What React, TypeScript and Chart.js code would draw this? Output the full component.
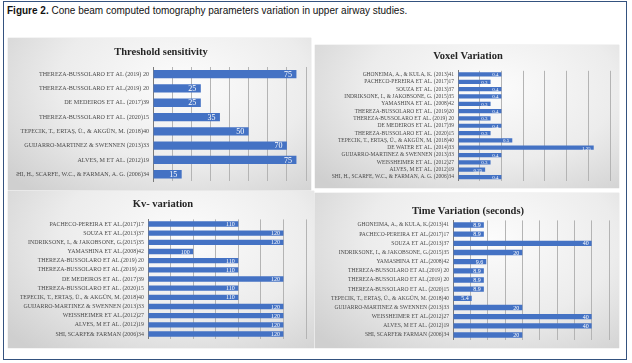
import React, { useEffect, useRef } from "react";
import { Chart, registerables } from "chart.js";
Chart.register(...registerables);

const thresholdLabels = [
  "THEREZA-BUSSOLARO ET AL (2019) 20",
  "THEREZA-BUSSOLARO ET AL.(2019) 20",
  "DE MEDEIROS ET AL. (2017)39",
  "THEREZA-BUSSOLARO ET AL. (2020)15",
  "TEPECIK, T., ERTAŞ, Ü., & AKGÜN, M. (2018)40",
  "GUIJARRO-MARTINEZ & SWENNEN (2013)33",
  "ALVES, M ET AL. (2012)19",
  "SHI, H., SCARFE, W.C., & FARMAN, A. G. (2006)34",
];
const thresholdValues = [75, 25, 25, 35, 50, 70, 75, 15];

const voxelLabels = [
  "GHONEIMA, A., & KULA, K. (2013)41",
  "PACHECO-PEREIRA ET AL. (2017)17",
  "SOUZA ET AL. (2013)37",
  "INDRIKSONE, I., & JAKOBSONE, G. (2015)35",
  "YAMASHINA ET AL. (2008)42",
  "THEREZA-BUSSOLARO ET AL. (2019)20",
  "THEREZA-BUSSOLARO ET AL. (2019) 20",
  "DE MEDEIROS ET AL. (2017)39",
  "THEREZA-BUSSOLARO ET AL. (2020)15",
  "TEPECIK, T., ERTAŞ, Ü., & AKGÜN, M. (2018)40",
  "DE WATER ET AL. (2014)33",
  "GUIJARRO-MARTINEZ & SWENNEN (2013)33",
  "WEISSHEIMER ET AL. (2012)27",
  "ALVES, M ET AL. (2012)19",
  "SHI, H., SCARFE, W.C., & FARMAN, A. G. (2006)34",
];
const voxelValues = [0.4, 0.3, 0.4, 0.4, 0.3, 0.4, 0.3, 0.4, 0.3, 0.5, 1.25, 0.4, 0.3, 0.25, 0.4];

const kvLabels = [
  "PACHECO-PEREIRA ET AL.(2017)17",
  "SOUZA ET AL.(2013)37",
  "INDRIKSONE, I., & JAKOBSONE, G.(2015)35",
  "YAMASHINA ET AL.(2008)42",
  "THEREZA-BUSSOLARO ET AL.(2019) 20",
  "THEREZA-BUSSOLARO ET AL.(2019) 20",
  "DE MEDEIROS ET AL. (2017)39",
  "THEREZA-BUSSOLARO ET AL. (2020)15",
  "TEPECIK, T., ERTAŞ, Ü., & AKGÜN, M. (2018)40",
  "GUIJARRO-MARTINEZ & SWENNEN (2013)33",
  "WEISSHEIMER ET AL.(2012)27",
  "ALVES, M ET AL. (2012)19",
  "SHI, SCARFE& FARMAN (2006)34",
];
const kvValues = [110, 120, 120, 100, 110, 110, 120, 110, 110, 120, 120, 120, 120];

const timeLabels = [
  "GHONEIMA, A., & KULA, K.(2013)41",
  "PACHECO-PEREIRA ET AL.(2017)17",
  "SOUZA ET AL.(2013)37",
  "INDRIKSONE, I., & JAKOBSONE, G.(2015)35",
  "YAMASHINA ET AL.(2008)42",
  "THEREZA-BUSSOLARO ET AL.(2019) 20",
  "THEREZA-BUSSOLARO ET AL.(2019) 20",
  "THEREZA-BUSSOLARO ET AL. (2020)15",
  "TEPECIK, T., ERTAŞ, Ü., & AKGÜN, M. (2018)40",
  "GUIJARRO-MARTINEZ & SWENNEN (2013)33",
  "WEISSHEIMER ET AL.(2012)27",
  "ALVES, M ET AL. (2012)19",
  "SHI, SCARFE& FARMAN (2006)34",
];
const timeValues = [8.9, 8.9, 40, 20, 9.6, 8.9, 8.9, 8.9, 5.4, 20, 40, 40, 20];

const thresholdAxis = [0, 80, 10];
const voxelAxis = [0, 1.4, 0.2];
const kvAxis = [90, 125, 5];
const timeAxis = [0, 45, 5];

const SERIF = '"Liberation Serif", "Times New Roman", serif';
const BAR = "#4472C4";

const valueLabelPlugin = {
  id: "valueLabels",
  afterDatasetsDraw(chart: any, _args: any, opts: any) {
    const ctx = chart.ctx;
    const meta = chart.getDatasetMeta(0);
    const ds = chart.data.datasets[0];
    ctx.save();
    ctx.fillStyle = "#ffffff";
    ctx.font = `${opts.size}px ${SERIF}`;
    ctx.textAlign = "right";
    ctx.textBaseline = "middle";
    meta.data.forEach((el: any, i: number) => {
      ctx.fillText(String(ds.data[i]), el.x - opts.pad, el.y + 0.5);
    });
    ctx.restore();
  },
};

type PanelCfg = {
  left: number;
  top: number;
  width: number;
  height: number;
  title: string;
  titleTop: number;
  titleBottom: number;
  padLeft: number;
  padRight: number;
  padBottom: number;
  yWidth: number;
  labels: string[];
  values: number[];
  axis: number[];
  labelSize: number;
  valueSize: number;
  valuePad: number;
};

const panels: PanelCfg[] = [
  {
    left: 8, top: 38, width: 303, height: 152,
    title: "Threshold sensitivity", titleTop: 8.2, titleBottom: 8.2,
    padLeft: 8, padRight: 5, padBottom: 8.6, yWidth: 137,
    labels: thresholdLabels, values: thresholdValues, axis: thresholdAxis,
    labelSize: 6.1, valueSize: 8, valuePad: 4.5,
  },
  {
    left: 315, top: 45, width: 304, height: 143,
    title: "Voxel Variation", titleTop: 4.7, titleBottom: 8.5,
    padLeft: 11, padRight: 9, padBottom: 5.3, yWidth: 132,
    labels: voxelLabels, values: voxelValues, axis: voxelAxis,
    labelSize: 5.5, valueSize: 5, valuePad: 3,
  },
  {
    left: 8, top: 191, width: 306, height: 157,
    title: "Kv- variation", titleTop: 6.7, titleBottom: 9.1,
    padLeft: 12, padRight: 8, padBottom: 9.4, yWidth: 128,
    labels: kvLabels, values: kvValues, axis: kvAxis,
    labelSize: 5.9, valueSize: 6, valuePad: 3.5,
  },
  {
    left: 315, top: 193, width: 304, height: 155,
    title: "Time Variation (seconds)", titleTop: 11.7, titleBottom: 3.1,
    padLeft: 12, padRight: 10, padBottom: 8.4, yWidth: 126,
    labels: timeLabels, values: timeValues, axis: timeAxis,
    labelSize: 5.6, valueSize: 6, valuePad: 3,
  },
];

function Panel({ cfg }: { cfg: PanelCfg }) {
  const ref = useRef<HTMLCanvasElement | null>(null);
  useEffect(() => {
    if (!ref.current) return;
    const [min, max, step] = cfg.axis;
    const chart = new Chart(ref.current, {
      type: "bar",
      data: {
        labels: cfg.labels,
        datasets: [
          {
            data: cfg.values,
            backgroundColor: BAR,
            borderWidth: 0,
            barPercentage: 0.58,
            categoryPercentage: 1,
            base: min,
          } as any,
        ],
      },
      plugins: [valueLabelPlugin as any],
      options: {
        indexAxis: "y",
        animation: false,
        responsive: false,
        devicePixelRatio: 1,
        layout: {
          padding: { left: cfg.padLeft, right: cfg.padRight, top: 0, bottom: cfg.padBottom },
        },
        plugins: {
          legend: { display: false },
          tooltip: { enabled: false },
          title: {
            display: true,
            text: cfg.title,
            color: "#262626",
            font: { family: SERIF, size: 10.5, weight: "bold", lineHeight: 1.2 },
            padding: { top: cfg.titleTop, bottom: cfg.titleBottom },
          },
          valueLabels: { size: cfg.valueSize, pad: cfg.valuePad },
        } as any,
        scales: {
          x: {
            type: "linear",
            min,
            max,
            ticks: { display: false, stepSize: step },
            grid: { display: true, color: "#b4b4b4", lineWidth: 1, drawTicks: false },
            border: { display: false },
          },
          y: {
            type: "category",
            grid: { display: false, drawTicks: false },
            border: { display: true, color: "#7a7a7a", width: 1 },
            ticks: {
              color: "#4a4a4a",
              font: { family: SERIF, size: cfg.labelSize },
              padding: 4,
              autoSkip: false,
            },
            afterFit: (scale: any) => {
              scale.width = cfg.yWidth;
            },
          },
        },
      },
    });
    return () => chart.destroy();
  }, [cfg]);
  return (
    <div
      style={{
        position: "absolute",
        left: cfg.left,
        top: cfg.top,
        width: cfg.width,
        height: cfg.height,
        background:
          "radial-gradient(ellipse 75% 95% at 58% 30%, #fcfcfc 0%, #ececec 55%, #cfcfcf 100%)",
        boxShadow: "0 0 1px rgba(0,0,0,0.25)",
      }}
    >
      <canvas
        ref={ref}
        width={cfg.width}
        height={cfg.height}
        style={{ display: "block", width: cfg.width, height: cfg.height }}
      />
    </div>
  );
}

export default function App() {
  return (
    <div
      style={{
        position: "fixed",
        left: 0,
        top: 0,
        width: 632,
        height: 363,
        background: "#ffffff",
        overflow: "hidden",
      }}
    >
      <div
        style={{
          position: "absolute",
          left: 3,
          top: 1,
          width: 624,
          height: 359,
          boxSizing: "border-box",
          border: "1.5px solid #34527f",
        }}
      />
      <div
        style={{
          position: "absolute",
          left: 7,
          top: 5,
          fontFamily: '"Liberation Sans", Arial, sans-serif',
          fontSize: 10,
          lineHeight: "12px",
          color: "#111",
          whiteSpace: "nowrap",
        }}
      >
        <b>Figure 2.</b> Cone beam computed tomography parameters variation in upper airway studies.
      </div>
      {panels.map((p, i) => (
        <Panel key={i} cfg={p} />
      ))}
    </div>
  );
}
